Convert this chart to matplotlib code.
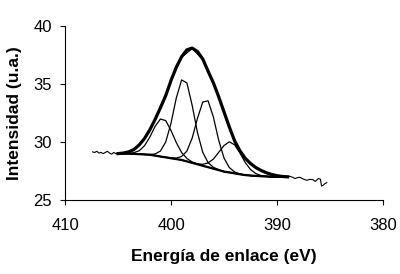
import numpy as np
import matplotlib
matplotlib.use("Agg")
import matplotlib.pyplot as plt

plt.rcParams['font.family'] = ['Liberation Sans', 'DejaVu Sans']

######################################################################
# Fitted curves, all on one energy grid (eV)
energy = [405.0, 404.5, 404.0, 403.5, 403.0, 402.5, 402.0, 401.5, 401.0, 400.5,
          400.0, 399.5, 399.0, 398.5, 398.0, 397.5, 397.0, 396.5, 396.0, 395.5,
          395.0, 394.5, 394.0, 393.5, 393.0, 392.5, 392.0, 391.5, 391.0, 390.5,
          390.0, 389.5, 389.0]

background = [29.00, 29.00, 29.00, 28.98, 28.95, 28.93, 28.90, 28.83, 28.75, 28.68,
              28.60, 28.53, 28.45, 28.33, 28.20, 28.08, 27.95, 27.83, 27.70, 27.58,
              27.45, 27.38, 27.30, 27.22, 27.15, 27.11, 27.08, 27.05, 27.03, 27.01,
              27.00, 27.00, 27.00]

envelope = [29.00, 29.05, 29.15, 29.35, 29.75, 30.30, 31.05, 31.95, 32.95, 34.00,
            35.30, 36.45, 37.35, 37.95, 38.10, 37.80, 37.15, 36.10, 35.10, 33.90,
            32.60, 31.30, 30.10, 29.25, 28.60, 28.15, 27.80, 27.55, 27.35, 27.20,
            27.10, 27.03, 27.00]

peak1 = [29.00, 29.00, 29.02, 29.08, 29.25, 29.68, 30.42, 31.35, 31.98, 31.85,
         31.00, 29.95, 29.10, 28.58, 28.28, 28.10, 27.95, 27.83, 27.70, 27.58,
         27.45, 27.38, 27.30, 27.22, 27.15, 27.11, 27.08, 27.05, 27.03, 27.01,
         27.00, 27.00, 27.00]

peak2 = [29.00, 29.00, 29.00, 28.98, 28.95, 28.93, 28.93, 28.97, 29.22, 30.00,
         31.62, 33.80, 35.35, 35.10, 33.15, 30.80, 29.10, 28.22, 27.82, 27.62,
         27.46, 27.38, 27.30, 27.22, 27.15, 27.11, 27.08, 27.05, 27.03, 27.01,
         27.00, 27.00, 27.00]

peak3 = [29.00, 29.00, 29.00, 28.98, 28.95, 28.93, 28.90, 28.83, 28.75, 28.69,
         28.63, 28.62, 28.75, 29.22, 30.35, 32.05, 33.45, 33.55, 32.15, 30.15,
         28.62, 27.80, 27.42, 27.25, 27.16, 27.11, 27.08, 27.05, 27.03, 27.01,
         27.00, 27.00, 27.00]

peak4 = [29.00, 29.00, 29.00, 28.98, 28.95, 28.93, 28.90, 28.83, 28.75, 28.68,
         28.60, 28.53, 28.45, 28.33, 28.22, 28.12, 28.08, 28.20, 28.53, 29.11,
         29.70, 30.02, 29.76, 29.06, 28.24, 27.63, 27.28, 27.11, 27.04, 27.01,
         27.00, 27.00, 27.00]

######################################################################
# Measured spectrum (noisy)
data_energy = [407.4, 407.2, 407.0, 406.8, 406.6, 406.4, 406.2, 406.0, 405.8, 405.6,
               405.4, 405.2, 405.0, 404.8, 404.0, 403.0, 402.0, 401.0, 400.0, 399.0,
               398.0, 397.0, 396.0, 395.0, 394.0, 393.0, 392.0, 391.0, 390.0, 389.0,
               388.8, 388.5, 388.3, 388.0, 387.8, 387.5, 387.2, 386.9, 386.6, 386.4,
               386.1, 385.9, 385.8, 385.6, 385.5, 385.3]
data_counts = [29.15, 29.10, 29.20, 29.05, 29.10, 29.00, 29.10, 29.20, 29.05, 28.95,
               29.10, 29.00, 29.00, 28.95, 29.12, 29.70, 31.00, 32.90, 35.25, 37.30,
               38.05, 37.10, 35.05, 32.55, 30.05, 28.55, 27.75, 27.30, 27.08, 27.00,
               27.05, 26.95, 26.85, 26.95, 26.95, 26.80, 26.70, 26.78, 26.75, 26.60,
               26.85, 26.80, 26.20, 26.30, 26.40, 26.50]

x_ticks = [410, 400, 390, 380]
y_ticks = [25, 30, 35, 40]

fig = plt.figure(figsize=(4.0, 2.74), dpi=100)
ax = fig.add_axes([0.1625, 0.270, 0.795, 0.635])

ax.plot(data_energy, data_counts, color='black', lw=0.8)
for comp in (peak1, peak2, peak3, peak4):
    ax.plot(energy, comp, color='black', lw=0.9)
ax.plot(energy, background, color='black', lw=1.6)
ax.plot(energy, envelope, color='black', lw=2.3)

ax.set_xlim(410, 380)
ax.set_ylim(25, 40)
ax.set_xticks(x_ticks)
ax.set_yticks(y_ticks)
ax.spines['top'].set_visible(False)
ax.spines['right'].set_visible(False)
ax.tick_params(direction='out', length=3.6, width=0.8, labelsize=12, pad=6)
ax.tick_params(axis='x', pad=9)
ax.set_xlabel('Energía de enlace (eV)', fontsize=12.5, fontweight='bold', labelpad=12)
ax.set_ylabel('Intensidad (u.a.)', fontsize=12.5, fontweight='bold', labelpad=8)

fig.savefig('out.png', dpi=100)
